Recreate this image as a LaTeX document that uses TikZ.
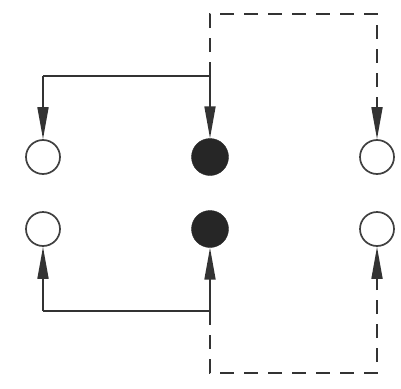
\documentclass[tikz,border=0pt]{standalone}
\usetikzlibrary{arrows.meta}
\begin{document}
\begin{tikzpicture}[x=1pt,y=-1pt,
  line/.style={draw=black!80, line width=1.7pt, -{Triangle[length=32pt,width=11pt]}},
  plain/.style={draw=black!80, line width=1.7pt},
  dashline/.style={line, dash pattern=on 14pt off 10pt},
  hole/.style={circle, draw=black!75, line width=1.7pt, fill=white, minimum size=34pt, inner sep=0pt},
  full/.style={circle, fill=black!85, draw=black!85, minimum size=37pt, inner sep=0pt}]
\useasboundingbox (0,0) rectangle (401,388);
\node[hole] (tl) at (43,157) {};
\node[full] (tm) at (210,157) {};
\node[hole] (tr) at (377,157) {};
\node[hole] (bl) at (43,229) {};
\node[full] (bm) at (210,229) {};
\node[hole] (br) at (377,229) {};
\coordinate (tj) at (210,76);
\coordinate (tc) at (210,14);
\coordinate (tcr) at (377,14);
\coordinate (bj) at (210,311);
\coordinate (bc) at (210,373);
\coordinate (bcr) at (377,373);
% top
\draw[plain] (tj) -- (tj -| tl) coordinate (tla);
\draw[line] (tla) -- (tl.north);
\draw[line] (tj) -- (tm.north);
\draw[dashline] (tj) -- (tc) -- (tcr) -- (tr.north);
% bottom
\draw[plain] (bj) -- (bj -| bl) coordinate (bla);
\draw[line] (bla) -- (bl.south);
\draw[line] (bj) -- (bm.south);
\draw[dashline] (bj) -- (bc) -- (bcr) -- (br.south);
\end{tikzpicture}
\end{document}
